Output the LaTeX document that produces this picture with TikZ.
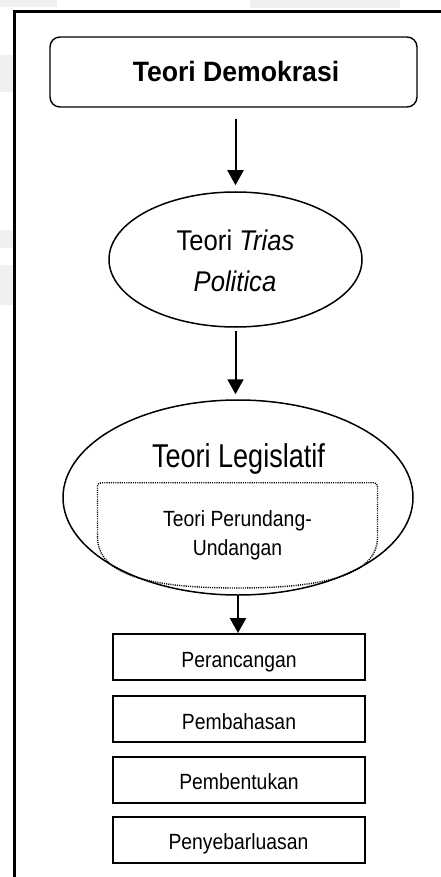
\documentclass[tikz,border=0pt]{standalone}
\usepackage{fontspec}
\setmainfont{Liberation Sans}
\newfontfamily\fDemo[FakeStretch=0.95]{Liberation Sans}
\newfontfamily\fTrias[FakeStretch=0.9]{Liberation Sans}
\newfontfamily\fLeg[FakeStretch=0.82]{Liberation Sans}
\newfontfamily\fSmall[FakeStretch=0.88]{Liberation Sans}
\usetikzlibrary{arrows.meta,shapes.geometric}
\tikzset{
  frameline/.style={line width=3pt},
  roundbox/.style={draw, rounded corners=10pt, line width=1.4pt, minimum width=367pt, minimum height=70pt, inner sep=0pt},
  ellnode/.style={draw, ellipse, line width=1.5pt, inner sep=0pt},
  stagebox/.style={draw, line width=1.9pt, minimum width=252pt, minimum height=46pt, inner sep=0pt},
  dotbox/.style={line width=1.4pt, dash pattern=on 1.1pt off 1.1pt},
  arr/.style={line width=2pt, -{Triangle[width=16pt,length=15pt]}},
  lbl/.style={anchor=base, inner sep=0pt},
  ghost/.style={fill=black!6, draw=none}
}
\begin{document}
\begin{tikzpicture}[x=1pt,y=-1pt]
\useasboundingbox (0,0) rectangle (441,877);
% faint background traces
\fill[ghost] (0,0) rectangle (57,7);
\fill[ghost] (250,0) rectangle (400,8);
\fill[ghost] (0,55) rectangle (13,92);
\fill[ghost] (0,230) rectangle (13,248);
\fill[ghost] (0,265) rectangle (13,305);
% outer frame
\draw[frameline] (14.5,880) -- (14.5,11.5) -- (445,11.5);
% shapes
\node[roundbox] (demo) at (233.5,72) {};
\node[ellnode, minimum width=253pt, minimum height=135pt] (trias) at (235.5,259.5) {};
\node[ellnode, minimum width=350pt, minimum height=195pt] (legis) at (238,497.5) {};
\node[stagebox] (b1) at (238.8,657) {};
\node[stagebox] (b2) at (238.8,719.3) {};
\node[stagebox] (b3) at (238.8,779.7) {};
\node[stagebox] (b4) at (238.8,839.7) {};
% dotted inner shape
\draw[dotbox] (97.5,537) -- (97.5,486) to[out=90,in=180] (101.5,482.7) -- (373.5,482.7) to[out=0,in=90] (377.5,486) -- (377.5,537)
  .. controls (377.5,575) and (325,588) .. (237.5,588)
  .. controls (150,588) and (97.5,575) .. (97.5,537);
% texts
\node[lbl] (demo-t) at (236,81.7) {\fontsize{28}{30}\fDemo\bfseries Teori Demokrasi};
\node[lbl] (trias-t1) at (235.5,250.7) {\fontsize{28.5}{30}\fTrias Teori \itshape Trias};
\node[lbl] (trias-t2) at (235,291.7) {\fontsize{28.5}{30}\fTrias\itshape Politica};
\node[lbl] (legis-t) at (238.5,467.3) {\fontsize{33}{35}\fLeg Teori Legislatif};
\node[lbl] (perund-t1) at (237.5,526.5) {\fontsize{22}{24}\fSmall Teori Perundang-};
\node[lbl] (perund-t2) at (237.5,555) {\fontsize{22}{24}\fSmall Undangan};
\node[lbl] (b1-t) at (239,667.3) {\fontsize{22}{24}\fSmall Perancangan};
\node[lbl] (b2-t) at (239,729.3) {\fontsize{22}{24}\fSmall Pembahasan};
\node[lbl] (b3-t) at (239,789.5) {\fontsize{22}{24}\fSmall Pembentukan};
\node[lbl] (b4-t) at (238.5,849.5) {\fontsize{22}{24}\fSmall Penyebarluasan};
% connectors
\draw[arr, shorten <=11pt, shorten >=6pt] (demo.south -| trias.north) -- (trias.north);
\draw[arr, shorten <=3pt, shorten >=5pt] (trias.south) -- (trias.south |- legis.north);
\draw[arr] (legis.south) -- (legis.south |- b1.north);
\end{tikzpicture}
\end{document}
